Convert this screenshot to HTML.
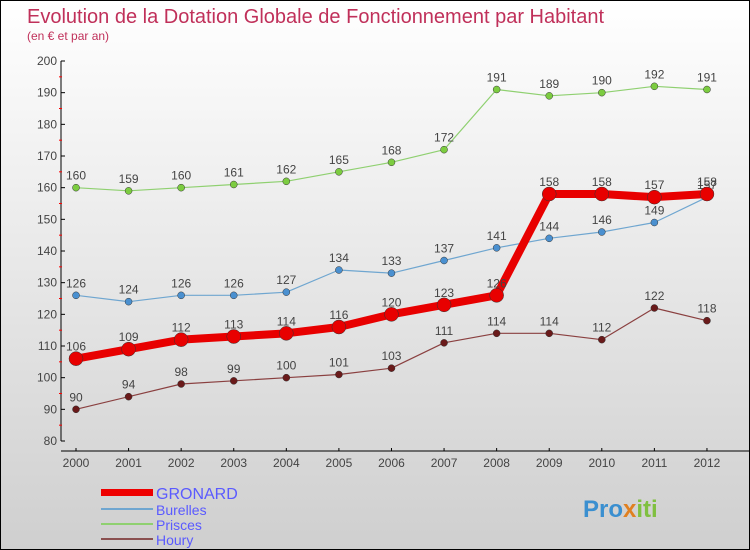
<!DOCTYPE html>
<html><head><meta charset="utf-8"><style>
body{margin:0}
#c{width:750px;height:550px;position:relative;overflow:hidden;box-sizing:border-box;border:1px solid #000;background:linear-gradient(#ffffff,#cfcfcf);font-family:"Liberation Sans",sans-serif}
</style></head><body>
<div id="c">
<svg width="750" height="550" id="svg">
<text x="26" y="22" font-size="20" fill="#c0305a">Evolution de la Dotation Globale de Fonctionnement par Habitant</text>
<text x="26" y="39" font-size="12" fill="#c0305a">(en € et par an)</text>
<g id="axes"></g><g id="series"></g>
<g>
<rect x="100" y="488" width="52" height="7" fill="#e00"/>
<text x="155" y="498" font-size="16" fill="#5a5aff">GRONARD</text>
<line x1="100" y1="508" x2="152" y2="508" stroke="#6fa6d0" stroke-width="2"/>
<text x="155" y="514" font-size="14" fill="#5a5aff">Burelles</text>
<line x1="100" y1="523" x2="152" y2="523" stroke="#8fd070" stroke-width="2"/>
<text x="155" y="529" font-size="14" fill="#5a5aff">Prisces</text>
<line x1="100" y1="538" x2="152" y2="538" stroke="#8a5050" stroke-width="2"/>
<text x="155" y="544" font-size="14" fill="#5a5aff">Houry</text>
</g>
<text x="582" y="516" font-size="24" font-weight="bold" fill="#3a8fd0">Pro<tspan fill="#e08020">x</tspan><tspan fill="#80c040">iti</tspan></text>
</svg>
</div>
<script>
const years=["2000","2001","2002","2003","2004","2005","2006","2007","2008","2009","2010","2011","2012"];
const gronard=[106,109,112,113,114,116,120,123,126,158,158,157,158];
const burelles=[126,124,126,126,127,134,133,137,141,144,146,149,157];
const prisces=[160,159,160,161,162,165,168,172,191,189,190,192,191];
const houry=[90,94,98,99,100,101,103,111,114,114,112,122,118];
const yTicks=[80,90,100,110,120,130,140,150,160,170,180,190,200];
const NS="http://www.w3.org/2000/svg";
const X=i=>75+i*52.58, Y=v=>60+(200-v)*3.1667;
function mk(t,a,p){const e=document.createElementNS(NS,t);for(const k in a)e.setAttribute(k,a[k]);p.appendChild(e);return e;}
const ax=document.getElementById('axes');
const ya=mk('line',{x1:60,y1:60,x2:60,y2:440,stroke:'#000'},ax);


const xa=mk('line',{x1:60,y1:450,x2:750,y2:450,stroke:'#000'},ax);


yTicks.forEach((v,i)=>{
 mk('line',{x1:60,y1:Y(v),x2:64,y2:Y(v),stroke:'#000'},ax);
 if(i<yTicks.length-1)mk('line',{x1:58,y1:Y(v+5),x2:61,y2:Y(v+5),stroke:'#f00'},ax);
 const t=mk('text',{x:56,y:Y(v)+4,'font-size':12,'text-anchor':'end',fill:'#444'},ax);t.textContent=v;
 
 
});
years.forEach((y,i)=>{
 mk('line',{x1:X(i),y1:447,x2:X(i),y2:450,stroke:'#000'},ax);
 const t=mk('text',{x:X(i),y:466,'font-size':12,'text-anchor':'middle',fill:'#444'},ax);t.textContent=y;
 
 
});
const sg=document.getElementById('series');
function series(d,name,col,w,r,dot){
 const g=mk('g',{},sg);
 
 
 const p=mk('polyline',{points:d.map((v,i)=>X(i)+','+Y(v)).join(' '),fill:'none',stroke:col,'stroke-width':w,'stroke-linejoin':'round'},g);
 
 
 d.forEach((v,i)=>{
  const c=mk('circle',{cx:X(i),cy:Y(v),r:r,fill:dot,stroke:'#333','stroke-width':0.5},g);
  
  
  const t=mk('text',{x:X(i),y:Y(v)-8,'font-size':12,'text-anchor':'middle',fill:'#444'},g);t.textContent=v;
  
  
 });
}
series(houry,'houry','#8a4040',1.2,3.5,'#6a1a1a');
series(prisces,'prisces','#8fd070',1.2,3.5,'#7ccc40');
series(burelles,'burelles','#6fa6d0',1.2,3.5,'#4a90d0');
series(gronard,'gronard','#e80000',8,7,'#e80000');
</script>
</body></html>
